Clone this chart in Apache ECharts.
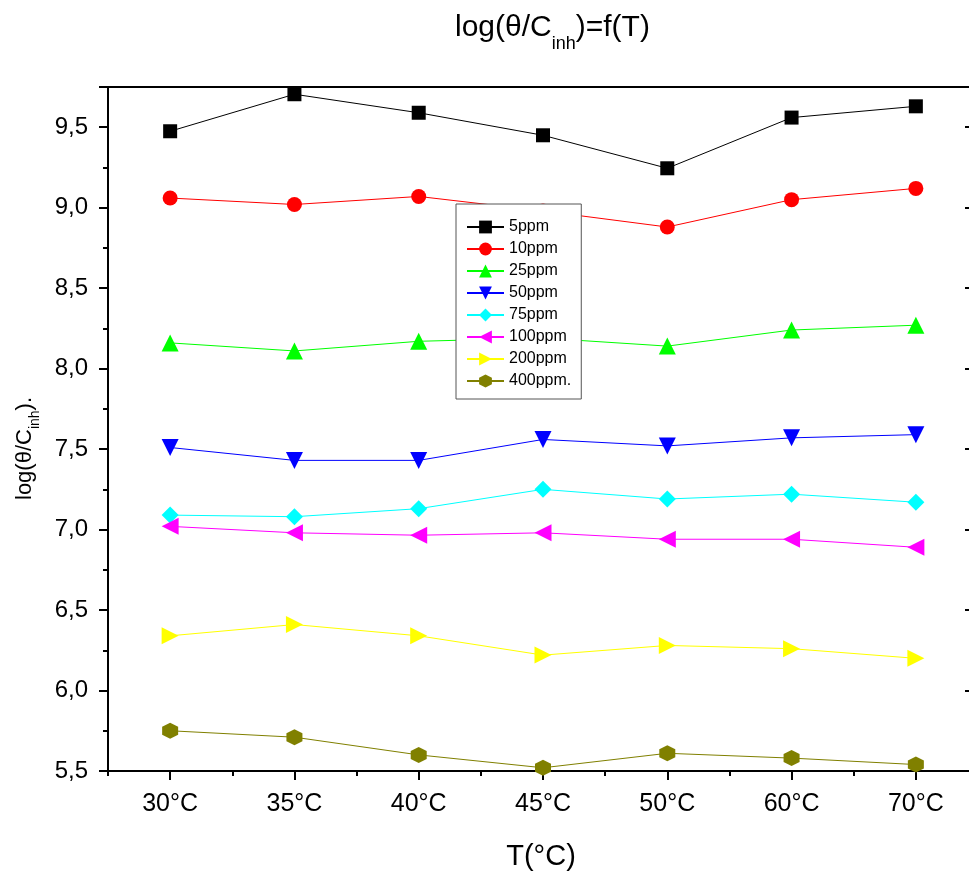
<!DOCTYPE html>
<html>
<head>
<meta charset="utf-8">
<script src="https://cdn.jsdelivr.net/npm/echarts@6/dist/echarts.min.js"></script>
<style>
html,body{margin:0;padding:0;background:#fff;}
#chart{width:969px;height:875px;}
</style>
</head>
<body>
<div id="chart"></div>
<script>
const categories = ['30°C','35°C','40°C','45°C','50°C','60°C','70°C'];
const seriesNames = ['5ppm','10ppm','25ppm','50ppm','75ppm','100ppm','200ppm','400ppm.'];
const s5ppm   = [9.475, 9.705, 9.59, 9.45, 9.245, 9.56, 9.63];
const s10ppm  = [9.06, 9.02, 9.07, 8.98, 8.88, 9.05, 9.12];
const s25ppm  = [8.16, 8.11, 8.17, 8.19, 8.14, 8.24, 8.27];
const s50ppm  = [7.51, 7.43, 7.43, 7.56, 7.52, 7.57, 7.59];
const s75ppm  = [7.09, 7.08, 7.13, 7.25, 7.19, 7.22, 7.17];
const s100ppm = [7.02, 6.98, 6.965, 6.98, 6.94, 6.94, 6.89];
const s200ppm = [6.34, 6.41, 6.34, 6.22, 6.28, 6.26, 6.20];
const s400ppm = [5.75, 5.71, 5.60, 5.52, 5.61, 5.58, 5.54];
const yTicks = [5.5, 6.0, 6.5, 7.0, 7.5, 8.0, 8.5, 9.0, 9.5];

const allData = [s5ppm, s10ppm, s25ppm, s50ppm, s75ppm, s100ppm, s200ppm, s400ppm];
const colors = ['#000000','#ff0000','#00ff00','#0000ff','#00ffff','#ff00ff','#ffff00','#808000'];
const hexagon = 'path://M0,-1 L0.866,-0.5 L0.866,0.5 L0,1 L-0.866,0.5 L-0.866,-0.5 Z';
const symbols = ['rect','circle','triangle','triangle','diamond','triangle','triangle',hexagon];
const rotates = [0,0,0,180,0,90,-90,0];
const sizes = [14,15,17,17,17,17,17,16];

const FONT = 'Liberation Sans';
const mctx = document.createElement('canvas').getContext('2d');
function tw(t, size){ mctx.font = size + 'px "' + FONT + '"'; return mctx.measureText(t).width; }

// text with subscript, built from pieces placed by measured widths
function subText(parts, x0, y0, rotation){
  let x = 0;
  const children = parts.map(p => {
    const el = {type:'text', x:x, y:p.mid,
      style:{text:p.t, fontSize:p.size, fontFamily:FONT, fill:'#000', align:'left', verticalAlign:'middle'}};
    x += tw(p.t, p.size);
    return el;
  });
  return {type:'group', x:x0, y:y0, rotation:rotation, children:children, silent:true};
}

const chart = echarts.init(document.getElementById('chart'));

const series = seriesNames.map((n,i)=>({
  name:n, type:'line', xAxisIndex:0, yAxisIndex:0,
  data: allData[i],
  symbol: symbols[i], symbolRotate: rotates[i], symbolSize: sizes[i],
  showAllSymbol:true,
  lineStyle:{color:colors[i], width:1},
  itemStyle:{color:colors[i]},
  emphasis:{disabled:true},
  animation:false
}));

const option = {
  animation:false,
  backgroundColor:'#ffffff',
  textStyle:{fontFamily:FONT},
  grid:{left:108, top:87, width:870, height:684, outerBoundsMode:'none', containLabel:false},
  legend:{
    data: seriesNames,
    orient:'vertical',
    left:456, top:204,
    padding:[15,10,10,10],
    itemWidth:37, itemHeight:16, itemGap:6,
    backgroundColor:'#ffffff',
    borderColor:'#555555', borderWidth:1,
    textStyle:{fontSize:16, color:'#000', fontFamily:FONT},
    selectedMode:false
  },
  xAxis:[
    {type:'category', data:categories, position:'bottom', boundaryGap:true,
     axisLine:{show:true, lineStyle:{color:'#000', width:2}},
     axisTick:{show:true, alignWithLabel:true, inside:false, length:9, lineStyle:{color:'#000', width:2}},
     axisLabel:{fontSize:25, color:'#000', margin:21, fontFamily:FONT},
     splitLine:{show:false}},
    {type:'category', data:categories, position:'bottom', boundaryGap:true, gridIndex:0,
     axisLine:{show:false},
     axisTick:{show:true, alignWithLabel:false, inside:false, length:5, lineStyle:{color:'#000', width:2}},
     axisLabel:{show:false}, splitLine:{show:false}},
    {type:'category', data:categories, position:'top', boundaryGap:true, gridIndex:0,
     axisLine:{show:true, lineStyle:{color:'#000', width:2}},
     axisTick:{show:false}, axisLabel:{show:false}, splitLine:{show:false}}
  ],
  yAxis:[
    {type:'value', min:5.5, max:9.75, interval:0.5, position:'left',
     axisLine:{show:true, lineStyle:{color:'#000', width:2}},
     axisTick:{show:true, inside:false, length:9, lineStyle:{color:'#000', width:2}},
     minorTick:{show:true, splitNumber:2, length:5, lineStyle:{color:'#000', width:2}},
     axisLabel:{fontSize:24, color:'#000', margin:20, fontFamily:FONT,
       formatter:function(v){
         const t = yTicks.find(x=>Math.abs(x-v)<1e-6);
         return t===undefined ? '' : t.toFixed(1).replace('.', ',');
       }},
     splitLine:{show:false}, minorSplitLine:{show:false}},
    {type:'value', min:5.5, max:9.75, interval:0.5, position:'right',
     axisLine:{show:true, lineStyle:{color:'#000', width:2}},
     axisTick:{show:true, inside:true, length:13, lineStyle:{color:'#000', width:2}},
     axisLabel:{show:false}, splitLine:{show:false}}
  ],
  graphic:[
    subText([
      {t:'log(θ/C', size:30, mid:28},
      {t:'inh', size:18, mid:44},
      {t:')=f(T)', size:30, mid:28}
    ], 455, 0, 0),
    subText([
      {t:'log(θ/C', size:22, mid:25.4},
      {t:'inh', size:14, mid:35},
      {t:').', size:22, mid:25.4}
    ], 0, 500, Math.PI/2),
    {type:'text', x:541, y:857,
     style:{text:'T(°C)', fontSize:29, fill:'#000', align:'center', verticalAlign:'middle', fontFamily:FONT}}
  ],
  series: series
};
chart.setOption(option);
</script>
</body>
</html>
